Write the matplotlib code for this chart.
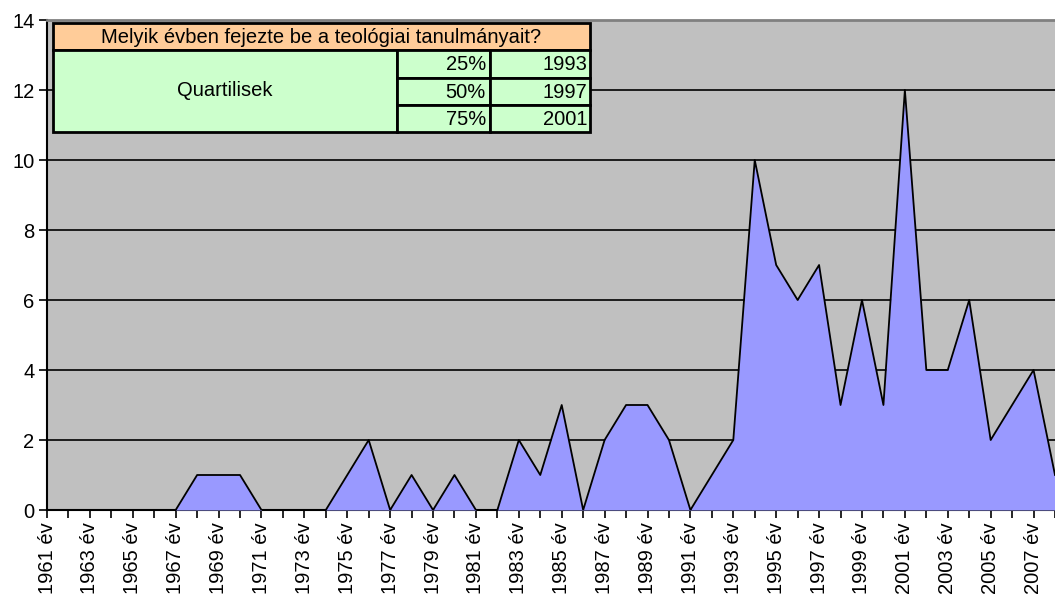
import numpy as np
import matplotlib
matplotlib.use("Agg")
import matplotlib.pyplot as plt
from matplotlib.patches import Rectangle

plt.rcParams["font.family"] = ["Liberation Sans", "DejaVu Sans"]

# ------------------------------------------------------------------
# data
# ------------------------------------------------------------------
years = list(range(1961, 2009))
counts = [0, 0, 0, 0, 0, 0, 0,          # 1961-1967
          1, 1, 1, 0, 0, 0, 0,          # 1968-1974
          1, 2, 0, 1, 0, 1, 0, 0,       # 1975-1982
          2, 1, 3, 0, 2, 3, 3, 2, 0,    # 1983-1991
          1, 2, 10, 7, 6, 7, 3, 6, 3,   # 1992-2000
          12, 4, 4, 6, 2, 3, 4, 1]      # 2001-2008

table_title = "Melyik évben fejezte be a teológiai tanulmányait?"
row_label = "Quartilisek"
quartile_names = ["25%", "50%", "75%"]
quartile_years = [1993, 1997, 2001]

FS = 14.5

# ------------------------------------------------------------------
# figure
# ------------------------------------------------------------------
W, H = 1055, 601
fig = plt.figure(figsize=(W / 100, H / 100), dpi=100)

def px(x0, y0, x1, y1):
    # pixel box (top-left origin) -> figure fraction rect
    return [x0 / W, 1 - y1 / H, (x1 - x0) / W, (y1 - y0) / H]

ax = fig.add_axes(px(47, 20, 1055, 510))
ax.set_facecolor("#C0C0C0")

x = np.array(years)
y = np.array(counts)
ax.fill_between(x, y, 0, color="#9999FF", zorder=3, linewidth=0)
ax.plot(x, y, color="black", lw=1.3, zorder=4)

# one year ~21.6 px, the chart is cut on the right just after 2007
ax.set_xlim(1961, 1961 + (1055 - 47) / 21.6)
ax.set_ylim(0, 14)
ax.set_yticks(range(0, 15, 2))
ax.yaxis.grid(True, color="black", lw=1.2, zorder=1)
ax.set_axisbelow(True)

ax.set_xticks(years)
ax.set_xticklabels([f"{yr} év" if yr % 2 == 1 else "" for yr in years],
                   rotation=90, fontsize=FS)
ax.tick_params(axis="x", length=6, width=1.2, direction="out", pad=3)
ax.tick_params(axis="y", length=6, width=1.2, direction="out", labelsize=FS, pad=3)

for s in ["left", "bottom"]:
    ax.spines[s].set_color("black")
    ax.spines[s].set_linewidth(1.5)
ax.spines["top"].set_color("#808080")
ax.spines["top"].set_linewidth(2)
ax.spines["right"].set_visible(False)

# ------------------------------------------------------------------
# quartile table in the top-left corner
# ------------------------------------------------------------------
tab = fig.add_axes([0, 0, 1, 1], facecolor="none")
tab.set_xlim(0, W)
tab.set_ylim(H, 0)
tab.axis("off")

x0, x1, x2, x3 = 53, 397, 490, 590
y0, y1 = 23, 50
rows = [50, 77.5, 105, 132]

def cell(xa, ya, xb, yb, color):
    tab.add_patch(Rectangle((xa, ya), xb - xa, yb - ya, facecolor=color,
                            edgecolor="black", lw=2, zorder=2))

cell(x0, y0, x3, y1, "#FFCC99")
tab.text((x0 + x3) / 2, (y0 + y1) / 2 + 1, table_title, ha="center",
         va="center", fontsize=FS)
cell(x0, rows[0], x1, rows[-1], "#CCFFCC")
tab.text((x0 + x1) / 2, (rows[0] + rows[-1]) / 2, row_label, ha="center",
         va="center", fontsize=FS)
for i, (q, yr) in enumerate(zip(quartile_names, quartile_years)):
    ya, yb = rows[i], rows[i + 1]
    cell(x1, ya, x2, yb, "#CCFFCC")
    cell(x2, ya, x3, yb, "#CCFFCC")
    tab.text(x2 - 4, (ya + yb) / 2 + 1, q, ha="right", va="center", fontsize=FS)
    tab.text(x3 - 3, (ya + yb) / 2 + 1, str(yr), ha="right", va="center",
             fontsize=FS)

fig.savefig("out.png", dpi=100)
